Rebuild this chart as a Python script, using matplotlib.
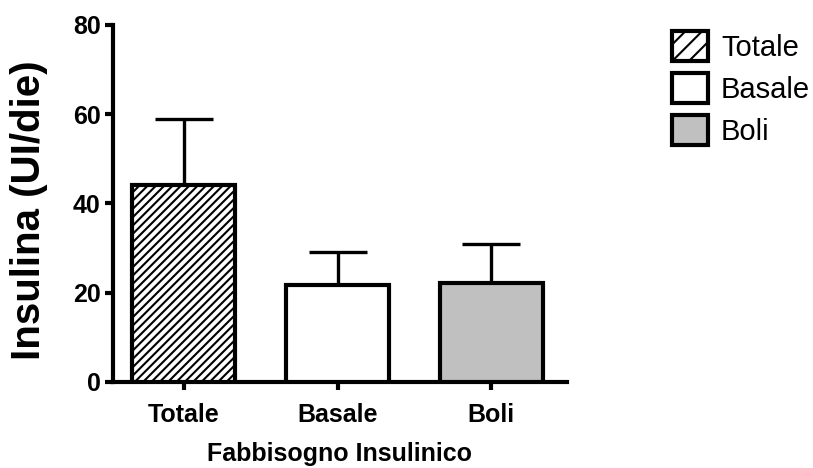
"""Fabbisogno insulinico: barre con deviazione standard superiore."""
import matplotlib
matplotlib.use("Agg")
import matplotlib.pyplot as plt
from matplotlib.patches import Patch

categories = ["Totale", "Basale", "Boli"]
means = [44.0, 21.7, 22.2]
sd_upper = [15.0, 7.4, 8.6]
y_ticks = [0, 20, 40, 60, 80]

fills = ["white", "white", "#c0c0c0"]
hatches = ["////", "", ""]

plt.rcParams["font.family"] = ["Liberation Sans", "DejaVu Sans"]
plt.rcParams["hatch.linewidth"] = 1.5
plt.rcParams["hatch.color"] = "black"

fig = plt.figure(figsize=(8.13, 4.68), dpi=100)
ax = fig.add_axes([0.139, 0.184, 0.558, 0.763])

x = list(range(len(categories)))
bars = ax.bar(x, means, width=0.67, color=fills, edgecolor="black",
              linewidth=3.0, zorder=3)
for b, h in zip(bars, hatches):
    if h:
        b.set_hatch(h)

ax.errorbar(x, means, yerr=[[0] * len(means), sd_upper], fmt="none",
            ecolor="black", elinewidth=2.4, capsize=21, capthick=2.4, zorder=2)

ax.set_xlim(-0.46, 2.49)
ax.set_ylim(0, 80)
ax.set_yticks(y_ticks)
ax.set_xticks(x)
ax.set_xticklabels(categories)

for side in ("top", "right"):
    ax.spines[side].set_visible(False)
for side in ("left", "bottom"):
    ax.spines[side].set_linewidth(3.0)

ax.tick_params(axis="both", width=3.0, length=6, labelsize=18)
ax.tick_params(axis="x", pad=9)
ax.tick_params(axis="y", pad=3)
for lbl in ax.get_xticklabels() + ax.get_yticklabels():
    lbl.set_fontweight("bold")

ax.set_xlabel("Fabbisogno Insulinico", fontsize=18, fontweight="bold", labelpad=11)
ax.set_ylabel("Insulina (UI/die)", fontsize=29, fontweight="bold")
ax.yaxis.set_label_coords(-0.143, 0.482)

handles = [Patch(facecolor=f, edgecolor="black", linewidth=3.0, hatch=h[:2] or None)
           for f, h in zip(fills, hatches)]
fig.legend(handles, categories, loc="upper left", bbox_to_anchor=(0.826, 0.933),
           frameon=False, fontsize=21, handlelength=1.25, handleheight=1.2,
           handletextpad=0.45, labelspacing=0.38, borderpad=0, borderaxespad=0)

fig.savefig("out.png", dpi=100)
